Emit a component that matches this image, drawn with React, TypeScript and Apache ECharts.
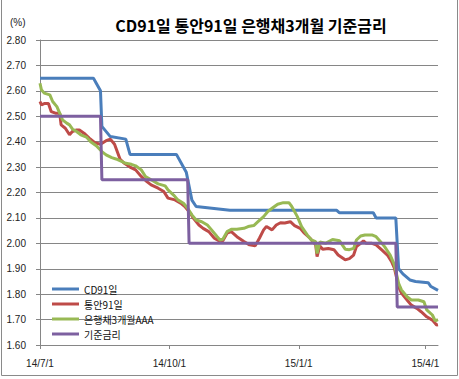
import React, { useEffect, useRef } from "react";
import * as echarts from "echarts";

const titleText = "CD91일 통안91일 은행채3개월 기준금리";
const unitText = "(%)";
const seriesNames = ["CD91일", "통안91일", "은행채3개월AAA", "기준금리"];
const seriesColors = ["#4A7EBB", "#BE4B48", "#98B954", "#7D60A0"];

const xTickDates = ["2014-07-01", "2014-10-01", "2015-01-01", "2015-04-01"];
const xMinDate = "2014-07-01";
const xMaxDate = "2015-04-10";

const cdDates = ["2014-07-01","2014-08-08","2014-08-10","2014-08-13","2014-08-14","2014-08-20","2014-08-31","2014-09-03","2014-10-06","2014-10-13","2014-10-17","2014-10-20","2014-11-13","2015-01-28","2015-01-30","2015-02-23","2015-02-25","2015-03-11","2015-03-13","2015-03-16","2015-03-21","2015-03-25","2015-04-03","2015-04-05","2015-04-10"];
const cdValues = [2.65,2.65,2.63,2.60,2.46,2.42,2.41,2.35,2.35,2.28,2.17,2.145,2.13,2.13,2.12,2.12,2.10,2.10,1.90,1.88,1.856,1.85,1.845,1.83,1.815];

const msbDates = ["2014-07-01","2014-07-02","2014-07-04","2014-07-07","2014-07-09","2014-07-12","2014-07-15","2014-07-16","2014-07-19","2014-07-22","2014-07-24","2014-07-27","2014-07-29","2014-08-02","2014-08-05","2014-08-09","2014-08-13","2014-08-17","2014-08-20","2014-08-23","2014-08-27","2014-08-30","2014-09-03","2014-09-07","2014-09-11","2014-09-15","2014-09-18","2014-09-23","2014-09-27","2014-09-30","2014-10-05","2014-10-09","2014-10-12","2014-10-16","2014-10-18","2014-10-22","2014-10-25","2014-10-29","2014-11-02","2014-11-06","2014-11-08","2014-11-11","2014-11-14","2014-11-18","2014-11-23","2014-11-27","2014-12-01","2014-12-04","2014-12-07","2014-12-09","2014-12-13","2014-12-16","2014-12-19","2014-12-22","2014-12-26","2014-12-29","2015-01-02","2015-01-05","2015-01-09","2015-01-13","2015-01-14","2015-01-16","2015-01-18","2015-01-22","2015-01-26","2015-01-29","2015-02-03","2015-02-06","2015-02-09","2015-02-11","2015-02-14","2015-02-16","2015-02-18","2015-02-22","2015-02-25","2015-03-01","2015-03-05","2015-03-08","2015-03-10","2015-03-13","2015-03-15","2015-03-19","2015-03-22","2015-03-26","2015-03-29","2015-04-02","2015-04-06","2015-04-09","2015-04-10"];
const msbValues = [2.558,2.545,2.55,2.55,2.518,2.512,2.512,2.466,2.453,2.427,2.44,2.446,2.446,2.43,2.414,2.396,2.39,2.404,2.41,2.39,2.33,2.315,2.30,2.289,2.263,2.243,2.23,2.217,2.204,2.178,2.171,2.158,2.145,2.118,2.099,2.072,2.059,2.046,2.02,2.007,2.01,2.04,2.046,2.026,2.007,1.994,1.99,2.02,2.053,2.066,2.053,2.072,2.081,2.08,2.085,2.07,2.059,2.04,2.02,1.994,1.948,1.99,1.977,1.98,1.975,1.954,1.935,1.94,1.954,1.987,2.00,2.01,2.00,2.00,1.994,1.974,1.954,1.928,1.902,1.83,1.804,1.777,1.757,1.744,1.731,1.711,1.698,1.679,1.68];

const bankDates = ["2014-07-01","2014-07-02","2014-07-04","2014-07-08","2014-07-10","2014-07-13","2014-07-15","2014-07-17","2014-07-20","2014-07-22","2014-07-24","2014-07-27","2014-07-30","2014-08-03","2014-08-06","2014-08-10","2014-08-14","2014-08-17","2014-08-21","2014-08-24","2014-08-28","2014-08-31","2014-09-04","2014-09-07","2014-09-11","2014-09-14","2014-09-18","2014-09-23","2014-09-28","2014-09-30","2014-10-04","2014-10-07","2014-10-11","2014-10-14","2014-10-17","2014-10-20","2014-10-24","2014-10-28","2014-10-31","2014-11-04","2014-11-06","2014-11-08","2014-11-11","2014-11-14","2014-11-18","2014-11-23","2014-11-26","2014-11-30","2014-12-03","2014-12-07","2014-12-10","2014-12-14","2014-12-17","2014-12-21","2014-12-25","2014-12-27","2014-12-31","2015-01-03","2015-01-07","2015-01-10","2015-01-13","2015-01-14","2015-01-16","2015-01-20","2015-01-25","2015-01-30","2015-02-03","2015-02-06","2015-02-09","2015-02-11","2015-02-14","2015-02-17","2015-02-22","2015-02-25","2015-02-28","2015-03-03","2015-03-07","2015-03-10","2015-03-13","2015-03-15","2015-03-19","2015-03-22","2015-03-27","2015-03-31","2015-04-02","2015-04-06","2015-04-08","2015-04-10"];
const bankValues = [2.63,2.604,2.591,2.584,2.558,2.538,2.512,2.486,2.473,2.466,2.45,2.44,2.427,2.418,2.40,2.384,2.361,2.348,2.337,2.332,2.322,2.315,2.311,2.305,2.289,2.263,2.25,2.234,2.226,2.21,2.19,2.171,2.158,2.138,2.112,2.092,2.085,2.072,2.053,2.026,2.013,2.016,2.046,2.055,2.055,2.059,2.066,2.07,2.085,2.105,2.125,2.142,2.154,2.16,2.16,2.145,2.105,2.066,2.033,2.013,2.007,1.96,2.005,2.0,2.015,2.01,1.977,1.975,1.98,2.013,2.029,2.033,2.033,2.026,2.007,1.987,1.954,1.915,1.843,1.817,1.79,1.777,1.777,1.77,1.738,1.718,1.695,1.70];

const baseDates = ["2014-07-01","2014-08-13","2014-08-14","2014-10-14","2014-10-15","2015-03-11","2015-03-12","2015-04-10"];
const baseValues = [2.5,2.5,2.25,2.25,2.0,2.0,1.75,1.75];

const toTs = (s: string) => {
  const [y, m, d] = s.split("-").map(Number);
  return new Date(y, m - 1, d).getTime();
};
const pairs = (dates: string[], vals: number[]) => dates.map((d, i) => [toTs(d), vals[i]]);

export default function App() {
  const ref = useRef<HTMLDivElement>(null);
  useEffect(() => {
    if (!ref.current) return;
    const chart = echarts.init(ref.current, undefined, { renderer: "svg" });
    const allData = [
      pairs(cdDates, cdValues),
      pairs(msbDates, msbValues),
      pairs(bankDates, bankValues),
      pairs(baseDates, baseValues),
    ];
    const tickTs = xTickDates.map(toTs);
    chart.setOption({
      animation: false,
      backgroundColor: "#ffffff",
      textStyle: { fontFamily: "'Noto Sans CJK KR', 'Liberation Sans', sans-serif" },
      title: {
        text: titleText,
        left: 246,
        textAlign: "center",
        top: 12,
        textStyle: { fontSize: 16, fontWeight: "bold", color: "#000", fontFamily: "'Noto Sans CJK KR', sans-serif" },
      },
      graphic: [
        {
          type: "rect",
          shape: { x: 1.5, y: -5, width: 456, height: 380.5 },
          style: { fill: "none", stroke: "#8a8a8a", lineWidth: 1 },
          silent: true,
          z: 100,
        },
        {
          type: "text",
          x: 10,
          y: 17,
          style: { text: unitText, fontSize: 10, fill: "#222", fontFamily: "'Liberation Sans', sans-serif" },
        },
      ],
      legend: {
        orient: "vertical",
        left: 47,
        top: 278,
        itemWidth: 27,
        itemHeight: 3,
        itemGap: 3,
        icon: "rect",
        data: seriesNames,
        textStyle: { fontSize: 10, color: "#111", lineHeight: 12 },
      },
      grid: { left: 40, right: 21, top: 40, bottom: 34 },
      xAxis: {
        type: "value",
        min: toTs(xMinDate),
        max: toTs(xMaxDate),
        axisLine: { lineStyle: { color: "#868686", width: 1 } },
        axisTick: { show: true, length: 4, lineStyle: { color: "#868686" }, customValues: tickTs },
        axisLabel: {
          customValues: tickTs,
          fontSize: 10,
          color: "#222",
          margin: 13,
          fontFamily: "'Liberation Sans', sans-serif",
          formatter: (v: number) => {
            const d = new Date(v);
            return `${String(d.getFullYear()).slice(2)}/${d.getMonth() + 1}/${d.getDate()}`;
          },
        },
        splitLine: { show: false },
      },
      yAxis: {
        type: "value",
        min: 1.6,
        max: 2.8,
        interval: 0.1,
        axisLine: { show: true, lineStyle: { color: "#868686", width: 1 } },
        axisTick: { show: true, length: 4, lineStyle: { color: "#868686" } },
        axisLabel: {
          fontSize: 10,
          color: "#222",
          margin: 14,
          fontFamily: "'Liberation Sans', sans-serif",
          formatter: (v: number) => v.toFixed(2),
        },
        splitLine: { show: true, lineStyle: { color: "#868686", width: 1 } },
      },
      series: seriesNames.map((name, i) => ({
        name,
        type: "line",
        data: allData[i],
        showSymbol: false,
        symbol: "none",
        smooth: false,
        color: seriesColors[i],
        lineStyle: { width: 3, color: seriesColors[i] },
      })),
    });
    return () => chart.dispose();
  }, []);
  return <div ref={ref} style={{ position: "absolute", left: 0, top: 0, width: 459, height: 379 }} />;
}
